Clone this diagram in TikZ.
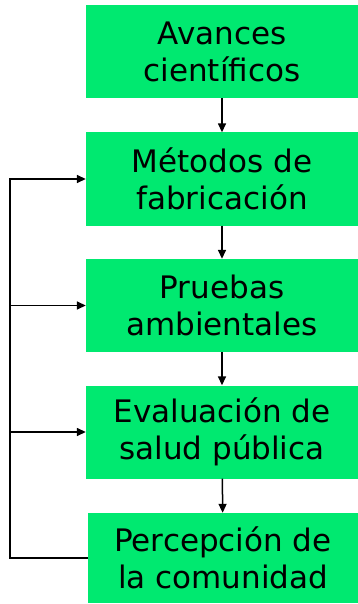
\documentclass[tikz,border=0pt]{standalone}
\usepackage{fontspec}
\setmainfont{DejaVu Sans}
\usepackage{tikz}
\usetikzlibrary{arrows.meta,positioning,calc}
\usepackage{xcolor}
\definecolor{boxgreen}{HTML}{00E970}

\begin{document}
\begin{tikzpicture}[x=1pt,y=-1pt,
					box/.style={fill=boxgreen, align=center, inner sep=0pt,
						minimum width=272pt, minimum height=93pt,
						font=\fontsize{31}{37}\selectfont},
					link/.style={-{Triangle[length=9pt,width=8pt]}, line width=1.5pt}]
				\useasboundingbox (0,0) rectangle (358,604);
				\node[box] (avances) at (222,51.5) {Avances\\científicos};
				\node[box] (metodos) at (222,179) {Métodos de\\fabricación};
				\node[box] (pruebas) at (222,305.5) {Pruebas\\ambientales};
				\node[box] (salud) at (222,432) {Evaluación de\\salud pública};
				\node[box, minimum width=270pt, minimum height=90pt] (percepcion) at (223,558) {Percepción de\\la comunidad};
				\coordinate (retorno) at (10,558);
				% flujo principal
				\draw[link] (avances) -- (metodos);
				\draw[link] (metodos) -- (pruebas);
				\draw[link] (pruebas) -- (salud);
				\draw[link] (salud) -- (percepcion);
				% retroalimentacion
				\draw[link] (percepcion.west) -- (retorno) |- (metodos.west);
				\draw[link] (retorno |- pruebas.west) -- (pruebas.west);
				\draw[link] (retorno |- salud.west) -- (salud.west);
			\end{tikzpicture}
\end{document}
